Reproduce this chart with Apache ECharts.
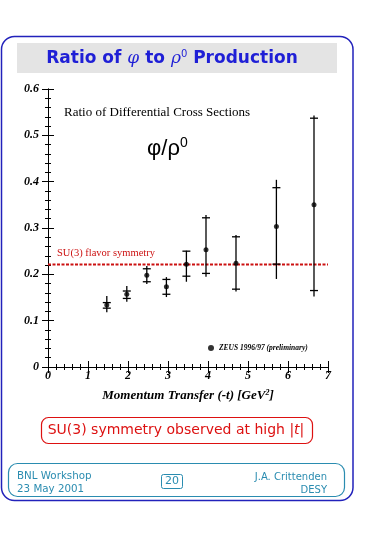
<!DOCTYPE html>
<html>
<head>
<meta charset="utf-8">
<script src="https://cdn.jsdelivr.net/npm/echarts@6/dist/echarts.min.js"></script>
<style>
html,body{margin:0;padding:0;background:#fff;}
#c{width:365px;height:535px;}
</style>
</head>
<body>
<div id="c"></div>
<script>
// ---- data ----
const xs       = [1.47, 1.97, 2.47, 2.96, 3.46, 3.95, 4.70, 5.71, 6.65];
const ratio    = [0.134, 0.157, 0.198, 0.173, 0.222, 0.253, 0.224, 0.303, 0.350];
const totLow   = [0.118, 0.141, 0.179, 0.151, 0.184, 0.195, 0.163, 0.190, 0.152];
const totHigh  = [0.153, 0.175, 0.218, 0.194, 0.251, 0.328, 0.285, 0.404, 0.543];
const statLow  = [0.127, 0.148, 0.184, 0.157, 0.196, 0.202, 0.168, 0.222, 0.165];
const statHigh = [0.139, 0.164, 0.212, 0.189, 0.250, 0.322, 0.281, 0.387, 0.537];
const su3Value = 0.221;
const xRange = [0, 7];
const yRange = [0, 0.6];
const seriesName = 'ZEUS 1996/97 (preliminary)';

const chart = echarts.init(document.getElementById('c'), null, {renderer: 'canvas'});

const points = xs.map((x, i) => [x, ratio[i]]);
const errData = xs.map((x, i) => [x, totLow[i], totHigh[i], statLow[i], statHigh[i]]);
const su3Line = xRange.map(x => [x, su3Value]);

const serifBI = {fontFamily: 'Liberation Serif', fontWeight: 'bold', fontStyle: 'italic', color: '#000'};

function axisCommon(show) {
  return {
    axisLine: {show: true, lineStyle: {color: '#000', width: 1}},
    axisTick: {show: true, inside: true, length: 6, lineStyle: {color: '#000'}},
    minorTick: {show: true, splitNumber: 5, length: 3, lineStyle: {color: '#000'}},
    splitLine: {show: false},
    axisLabel: Object.assign({show: show, fontSize: 12}, serifBI)
  };
}

const option = {
  backgroundColor: '#fff',
  animation: false,
  grid: {left: 48, top: 89, width: 280, height: 278, containLabel: false},
  xAxis: [
    Object.assign({type: 'value', min: xRange[0], max: xRange[1], interval: 1, position: 'bottom',
      name: '{a|Momentum Transfer (-t) [GeV}{s|2}{a|]}', nameLocation: 'middle', nameGap: 22,
      nameTextStyle: {rich: {
        a: Object.assign({fontSize: 13}, serifBI),
        s: Object.assign({fontSize: 8, verticalAlign: 'top', padding: [0,0,6,0]}, serifBI)
      }}
    }, axisCommon(true), {axisLabel: Object.assign({show: true, fontSize: 12, margin: 3}, serifBI)}),
    Object.assign({type: 'value', min: xRange[0], max: xRange[1], interval: 1, position: 'top'}, axisCommon(false))
  ],
  yAxis: [
    Object.assign({type: 'value', min: yRange[0], max: yRange[1], interval: 0.1, position: 'left'},
      axisCommon(true), {axisLabel: Object.assign({show: true, fontSize: 12, margin: 9}, serifBI)}),
    Object.assign({type: 'value', min: yRange[0], max: yRange[1], interval: 0.1, position: 'right'}, axisCommon(false))
  ],
  legend: {
    left: 203, top: 339, itemWidth: 6, itemHeight: 6, itemGap: 4,
    icon: 'circle',
    data: [seriesName],
    textStyle: {fontFamily: 'Liberation Serif', fontStyle: 'italic', fontWeight: 'bold', fontSize: 7.5, color: '#000'}
  },
  series: [
    {
      type: 'line', data: su3Line, symbol: 'none', silent: true,
      lineStyle: {color: '#cc1111', width: 2, type: [3, 1.5]}, z: 3
    },
    {
      type: 'custom', name: 'err', data: errData, z: 4,
      renderItem: function (params, api) {
        const x = api.value(0);
        const pLo = api.coord([x, api.value(1)]);
        const pHi = api.coord([x, api.value(2)]);
        const sLo = api.coord([x, api.value(3)]);
        const sHi = api.coord([x, api.value(4)]);
        const hw = 4;
        const st = {stroke: '#000', lineWidth: 1.3};
        return {type: 'group', children: [
          {type: 'line', shape: {x1: pLo[0], y1: pLo[1], x2: pHi[0], y2: pHi[1]}, style: st},
          {type: 'line', shape: {x1: sLo[0]-hw, y1: sLo[1], x2: sLo[0]+hw, y2: sLo[1]}, style: st},
          {type: 'line', shape: {x1: sHi[0]-hw, y1: sHi[1], x2: sHi[0]+hw, y2: sHi[1]}, style: st}
        ]};
      }
    },
    {
      type: 'scatter', name: seriesName, data: points, symbol: 'circle', symbolSize: 5,
      itemStyle: {color: '#000'}, z: 5
    }
  ],
  graphic: [
    {type: 'rect', shape: {x: 1.5, y: 36.5, width: 351.5, height: 464, r: 13},
      style: {fill: null, stroke: '#2222bb', lineWidth: 1.5}, z: 1},
    {type: 'rect', shape: {x: 17, y: 43, width: 320, height: 30},
      style: {fill: '#e4e4e4'}, z: 1},
    {type: 'text', x: 172, y: 59, z: 2,
      style: {text: '{a|Ratio of }{g|φ}{a| to }{g|ρ}{s|0}{a| Production}', align: 'center', verticalAlign: 'middle',
        rich: {
          a: {fontFamily: 'DejaVu Sans', fontWeight: 'bold', fontSize: 17, fill: '#1f1fd6'},
          g: {fontFamily: 'DejaVu Serif', fontStyle: 'italic', fontSize: 17, fill: '#1f1fd6'},
          s: {fontFamily: 'DejaVu Sans', fontSize: 10, fill: '#1f1fd6', verticalAlign: 'top', padding: [0,0,9,0]}
        }}},
    {type: 'text', x: 64, y: 113, z: 2,
      style: {text: 'Ratio of Differential Cross Sections', verticalAlign: 'middle',
        font: '13px "Liberation Serif"', fill: '#000'}},
    {type: 'text', x: 147, y: 149, z: 2,
      style: {text: '{a|φ/ρ}{s|0}', verticalAlign: 'middle',
        rich: {
          a: {fontFamily: 'Liberation Sans', fontSize: 22, fill: '#000'},
          s: {fontFamily: 'Liberation Sans', fontSize: 14, fill: '#000', verticalAlign: 'top', padding: [0,0,12,0]}
        }}},
    {type: 'text', x: 57, y: 253, z: 2,
      style: {text: 'SU(3) flavor symmetry', verticalAlign: 'middle',
        font: '10.5px "Liberation Serif"', fill: '#cc1111'}},
    {type: 'rect', shape: {x: 41.5, y: 417.5, width: 271, height: 26, r: 7},
      style: {fill: null, stroke: '#dd1111', lineWidth: 1.2}, z: 1},
    {type: 'text', x: 176, y: 430.5, z: 2,
      style: {text: '{a|SU(3) symmetry observed at high |}{i|t}{a||}', align: 'center', verticalAlign: 'middle',
        rich: {
          a: {fontFamily: 'DejaVu Sans', fontSize: 14, fill: '#dd1111'},
          i: {fontFamily: 'DejaVu Sans', fontStyle: 'italic', fontSize: 14, fill: '#dd1111'}
        }}},
    {type: 'rect', shape: {x: 8.5, y: 463.5, width: 336, height: 33, r: 9},
      style: {fill: null, stroke: '#2a8cb0', lineWidth: 1.2}, z: 1},
    {type: 'text', x: 17, y: 476, z: 2,
      style: {text: 'BNL Workshop', verticalAlign: 'middle', font: '10.3px "DejaVu Sans"', fill: '#2a8cb0'}},
    {type: 'text', x: 17, y: 489, z: 2,
      style: {text: '23 May 2001', verticalAlign: 'middle', font: '10.3px "DejaVu Sans"', fill: '#2a8cb0'}},
    {type: 'rect', shape: {x: 161.5, y: 474.5, width: 21, height: 14, r: 2},
      style: {fill: null, stroke: '#2a8cb0', lineWidth: 1}, z: 1},
    {type: 'text', x: 172, y: 481.5, z: 2,
      style: {text: '20', align: 'center', verticalAlign: 'middle', font: '11px "DejaVu Sans"', fill: '#2a8cb0'}},
    {type: 'text', x: 327, y: 477, z: 2,
      style: {text: 'J.A. Crittenden', align: 'right', verticalAlign: 'middle', font: '10px "DejaVu Sans"', fill: '#2a8cb0'}},
    {type: 'text', x: 327, y: 490, z: 2,
      style: {text: 'DESY', align: 'right', verticalAlign: 'middle', font: '10px "DejaVu Sans"', fill: '#2a8cb0'}}
  ]
};
chart.setOption(option);
</script>
</body>
</html>
